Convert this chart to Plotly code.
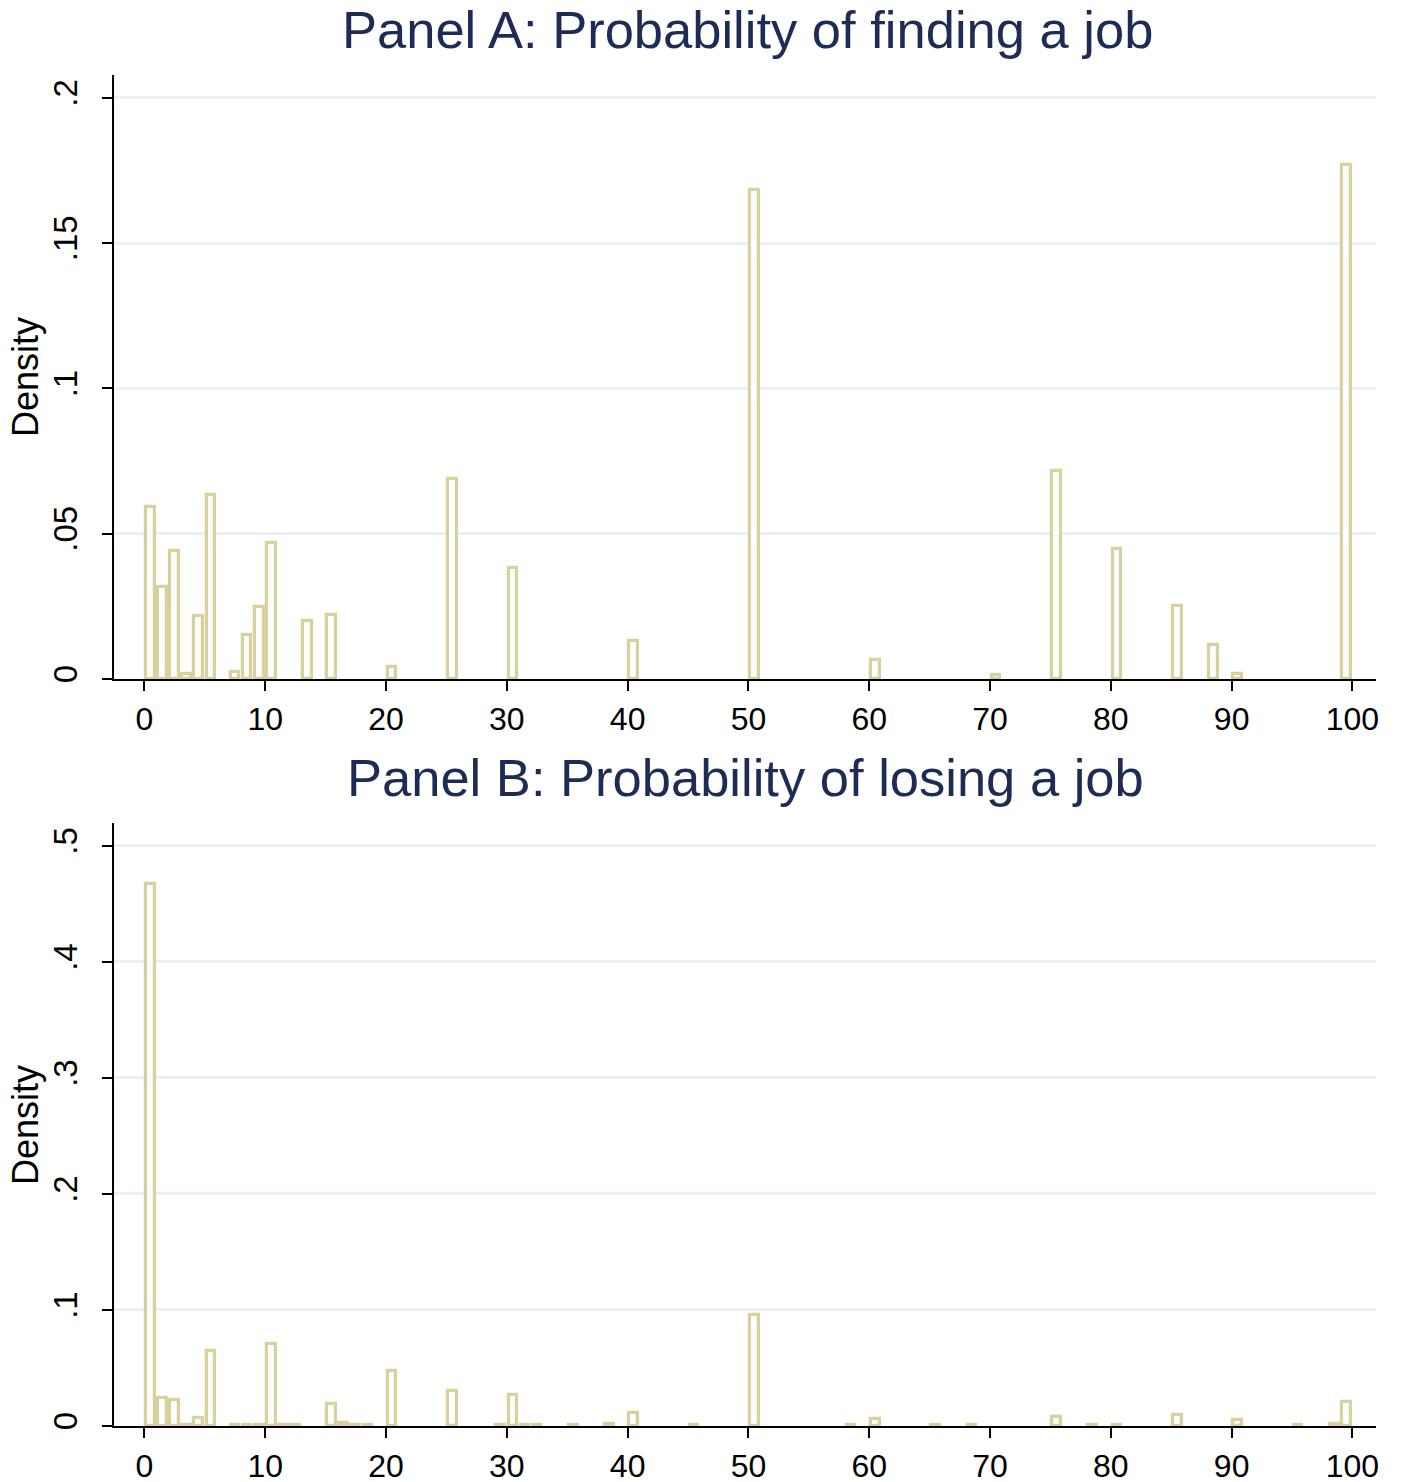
import plotly.graph_objects as go

# ---- data (bin left edges, bin width 1, and densities) ----
find_bins = [0, 1, 2, 3, 4, 5, 7, 8, 9, 10, 13, 15, 20, 25, 30, 40, 50, 60, 70, 75, 80, 85, 88, 90, 99]
find_density = [0.0592, 0.0315, 0.0442, 0.0016, 0.0218, 0.0632, 0.0025, 0.0152, 0.0249, 0.0468,
                 0.0198, 0.0219, 0.0040, 0.0688, 0.0382, 0.0132, 0.1684, 0.0064, 0.0013, 0.0715,
                 0.0448, 0.0251, 0.0118, 0.0017, 0.1770]

lose_bins = [0, 1, 2, 3, 4, 5, 7, 8, 9, 10, 11, 12, 15, 16, 17, 18, 20, 25, 29, 30, 31, 32, 35, 38,
             40, 45, 50, 58, 60, 65, 68, 75, 78, 80, 85, 90, 95, 98, 99]
lose_density = [0.4670, 0.0240, 0.0223, 0.0010, 0.0067, 0.0645, 0.0010, 0.0005, 0.0010, 0.0709,
                0.0010, 0.0005, 0.0191, 0.0025, 0.0010, 0.0010, 0.0470, 0.0303, 0.0005, 0.0269,
                0.0010, 0.0010, 0.0005, 0.0020, 0.0111, 0.0005, 0.0958, 0.0005, 0.0059, 0.0005,
                0.0005, 0.0076, 0.0005, 0.0005, 0.0093, 0.0053, 0.0005, 0.0020, 0.0208]

x_ticks = list(range(0, 101, 10))
yA_ticks = [0, 0.05, 0.1, 0.15, 0.2]
yA_labels = ["0", ".05", ".1", ".15", ".2"]
yB_ticks = [0, 0.1, 0.2, 0.3, 0.4, 0.5]
yB_labels = ["0", ".1", ".2", ".3", ".4", ".5"]

titleA = "Panel A: Probability of finding a job"
titleB = "Panel B: Probability of losing a job"

W, H = 1404, 1482
FONT = "Liberation Sans, Arial, Helvetica, sans-serif"
BAR_LINE = "#d7d19d"
GRID = "#e9f1f2"
TITLE_C = "#1e2c55"

fig = go.Figure()
fig.add_trace(go.Bar(x=[b + 0.5 for b in find_bins], y=find_density, width=0.72,
                     marker=dict(color="white", line=dict(color=BAR_LINE, width=3.2)),
                     xaxis="x", yaxis="y", showlegend=False, hoverinfo="x+y"))
fig.add_trace(go.Bar(x=[b + 0.5 for b in lose_bins], y=lose_density, width=0.72,
                     marker=dict(color="white", line=dict(color=BAR_LINE, width=3.2)),
                     xaxis="x2", yaxis="y2", showlegend=False, hoverinfo="x+y"))

xdom = [114 / W, 1376 / W]
domA = [1 - 679 / H, 1 - 75 / H]
domB = [1 - 1426 / H, 1 - 823 / H]

xcommon = dict(range=[-2.52, 101.95], tickvals=x_ticks, ticks="outside", ticklen=10, tickwidth=2,
               tickcolor="black", showline=True, linecolor="black", linewidth=2, showgrid=False,
               zeroline=False, tickfont=dict(family=FONT, size=32, color="black"),
               automargin=False, fixedrange=True, ticklabelstandoff=1)
ycommon = dict(ticks="outside", ticklen=10, tickwidth=2, tickcolor="black", showline=True,
               linecolor="black", linewidth=2, showgrid=True, gridcolor=GRID, gridwidth=2.5,
               zeroline=False, tickangle=-90, tickfont=dict(family=FONT, size=33, color="black"),
               automargin=False, fixedrange=True, ticklabelstandoff=12)

fig.update_layout(
    width=W, height=H,
    margin=dict(l=0, r=0, t=0, b=0),
    paper_bgcolor="white", plot_bgcolor="white",
    bargap=0,
    xaxis=dict(domain=xdom, anchor="y", **xcommon),
    yaxis=dict(domain=domA, anchor="x", range=[0, 0.2079], tickvals=yA_ticks, ticktext=yA_labels, **ycommon),
    xaxis2=dict(domain=xdom, anchor="y2", **xcommon),
    yaxis2=dict(domain=domB, anchor="x2", range=[0, 0.5198], tickvals=yB_ticks, ticktext=yB_labels, **ycommon),
    annotations=[
        dict(text=titleA, x=747 / W, y=1 - 30 / H, xref="paper", yref="paper", showarrow=False,
             xanchor="center", yanchor="middle", font=dict(family=FONT, size=52.5, color=TITLE_C)),
        dict(text=titleB, x=745 / W, y=1 - 778 / H, xref="paper", yref="paper", showarrow=False,
             xanchor="center", yanchor="middle", font=dict(family=FONT, size=52.5, color=TITLE_C)),
        dict(text="Density", x=25 / W, y=1 - 377 / H, xref="paper", yref="paper", showarrow=False,
             textangle=-90, xanchor="center", yanchor="middle", font=dict(family=FONT, size=36, color="black")),
        dict(text="Density", x=25 / W, y=1 - 1125 / H, xref="paper", yref="paper", showarrow=False,
             textangle=-90, xanchor="center", yanchor="middle", font=dict(family=FONT, size=36, color="black")),
    ],
)

fig.write_html("out.html")
